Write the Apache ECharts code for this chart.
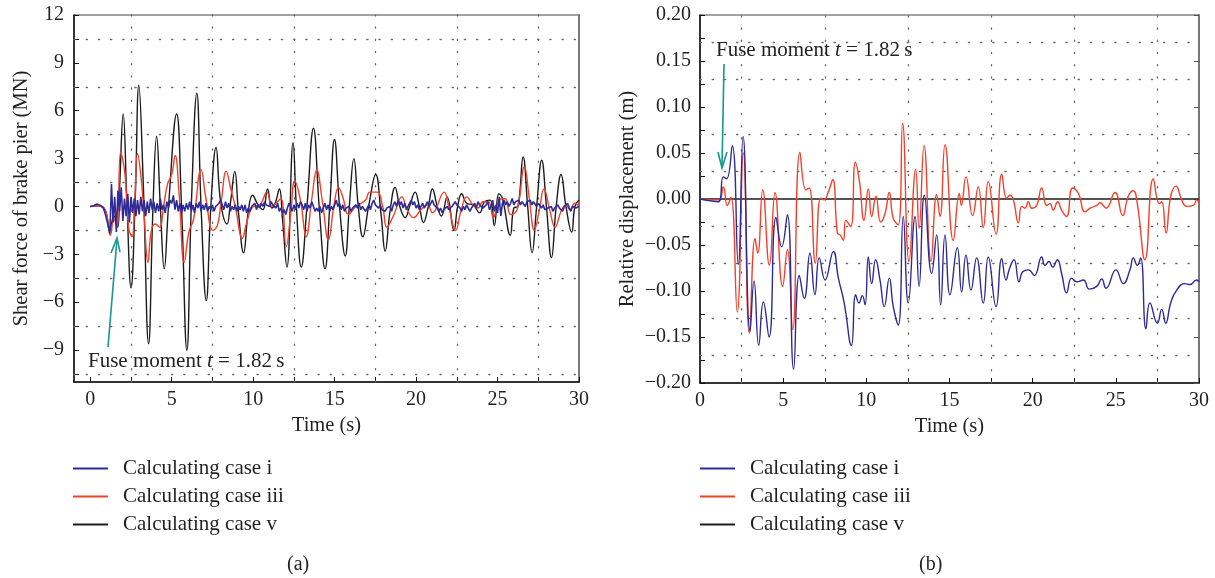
<!DOCTYPE html>
<html>
<head>
<meta charset="utf-8">
<script src="https://cdn.jsdelivr.net/npm/echarts@6/dist/echarts.min.js"></script>
<style>
  html, body { margin: 0; padding: 0; background: #ffffff; }
  #chart { width: 1215px; height: 578px; }
</style>
</head>
<body>
<div id="chart"></div>
<script>
// ---- names, colours and axis ticks ----
const seriesNames = ['Calculating case i', 'Calculating case iii', 'Calculating case v'];
const seriesColors = ['#2d2b98', '#f2412b', '#1c1c1c'];

const timeLabelValues = [0, 5, 10, 15, 20, 25, 30];
const timeTickValues = [0, 2.5, 5, 7.5, 10, 12.5, 15, 17.5, 20, 22.5, 25, 27.5, 30];
const timeGridValues = [2.5, 7.5, 12.5, 17.5, 22.5, 27.5];

const forceLabelValues = [-9, -6, -3, 0, 3, 6, 9, 12];
const forceTickValues = [-10.5, -9, -7.5, -6, -4.5, -3, -1.5, 0, 1.5, 3, 4.5, 6, 7.5, 9, 10.5, 12];
const forceGridValues = [-10.5, -7.5, -4.5, -1.5, 1.5, 4.5, 7.5, 10.5];

const dispGridValues = [-0.175, -0.125, -0.075, -0.025, 0.025, 0.075, 0.125, 0.175];

// ---- (a) shear force of brake pier, MN ----
// case i sampled every 0.1 s from t = 0
const caseIForceStep = 0.1;
const caseIForce = [
  0, 0.02, 0.05, 0.1, 0.15, 0.12, 0.08, 0.05, -0.1, -0.4,
  -0.8, -1.2, -1.7, 1.4, -1.0, 0.6, -1.6, 1.0, -0.3, 1.2,
  -0.9, 0.5, -0.6, 0.8, -1.0, 0.6, -0.4, 0.5, -0.6, 0.4,
  -0.5, 0.6, -0.3, 0.4, -0.6, 0.3, -0.4, 0.5, -0.2, 0.3,
  -0.4, 0.2, -0.3, 0.5, -0.2, 0.1, -0.4, 0.3, -0.1, 0.4,
  0.2, 0.7, -0.2, 0.4, -0.3, 0.2, -0.4, 0.1, -0.3, 0.2,
  -0.2, 0.3, -0.3, 0.1, -0.4, 0.2, -0.1, 0.3, -0.3, 0.1,
  -0.2, 0.2, -0.3, 0.0, -0.2, 0.1, -0.3, 0.0, -0.1, 0.2,
  0.4, 0.1, -0.2, 0.3, -0.1, 0.2, -0.3, 0.0, -0.2, 0.1,
  -0.3, 0.0, -0.2, 0.1, -0.3, 0.1, -0.4, -0.1, -0.3, 0.0,
  -0.1, 0.2, -0.2, 0.1, -0.1, 0.2, 0.0, 0.3, 0.1, 0.2,
  0.0, 0.3, 0.1, 0.2, -0.1, 0.2, -0.3, -0.1, -0.4, -0.2,
  -0.5, -0.1, 0.2, 0.0, -0.3, 0.1, -0.2, 0.2, -0.1, 0.3,
  0.1, -0.2, 0.2, -0.3, 0.1, -0.1, 0.3, 0.0, -0.3, -0.1,
  -0.3, 0.0, -0.4, -0.1, 0.2, -0.2, 0.1, -0.3, 0.0, -0.2,
  0.1, 0.4, 0.0, 0.2, -0.2, 0.1, -0.3, -0.1, -0.2, 0.0,
  -0.3, -0.1, -0.2, 0.1, -0.1, 0.2, -0.2, 0.0, -0.1, -0.3,
  -0.1, 0.1, -0.2, 0.2, 0.4, 0.1, 0.2, -0.1, 0.1, -0.2,
  -0.1, -0.3, -0.1, -0.2, 0.0, -0.3, 0.1, 0.3, 0.0, 0.4,
  0.1, 0.3, -0.1, 0.2, -0.2, 0.0, 0.2, 0.4, 0.1, 0.3,
  -0.1, 0.1, -0.2, 0.0, 0.2, -0.1, 0.1, 0.3, 0.0, 0.2,
  0.4, 0.1, 0.2, -0.1, -0.3, -0.1, -0.4, -0.2, -0.3, 0.0,
  -0.2, -0.3, 0.0, 0.1, 0.3, 0.1, 0.0, -0.1, -0.3, 0.0,
  -0.2, 0.1, -0.1, -0.3, -0.1, 0.0, 0.2, -0.1, 0.3, 0.1,
  0.2, -0.1, -0.2, 0.1, 0.3, -0.2, 0.0, 0.4, -0.3, 0.1,
  -0.4, 0.6, -0.6, 0.2, 0.4, 0.1, 0.3, 0.0, 0.2, 0.5,
  0.1, 0.3, 0.2, 0.4, 0.1, 0.3, 0.2, 0.0, 0.3, 0.2,
  0.4, 0.1, 0.3, 0.2, 0.0, 0.2, 0.3, -0.1, 0.1, -0.2,
  -0.3, -0.1, -0.2, 0.0, -0.3, -0.1, -0.2, 0.1, -0.1, -0.2,
  -0.3, 0.0, -0.1, 0.2, -0.1, -0.3, 0.0, 0.1, -0.1, 0.0,
  0.0
];

const caseIIIForce = [
  [0, 0], [0.5, 0.05], [0.92, -0.2], [1.23, -1.8], [1.45, -0.8], [1.65, -1.3], [1.86, 3.4],
  [2.12, 2.1], [2.35, -1.3], [2.56, -1.9], [2.72, 0.2], [2.9, 3.3], [3.1, 2.0], [3.3, -0.5],
  [3.54, -3.5], [3.75, -1.5], [3.99, -1.1], [4.25, -1.3], [4.5, 0], [4.74, 1.4], [5.0, 2.0],
  [5.21, 3.2], [5.45, 0.8], [5.77, -3.5], [6.05, -1.6], [6.34, -0.8], [6.8, 2.3], [7.1, 0.5],
  [7.53, -1.5], [7.8, -1.2], [8.05, 0.4], [8.34, 2.2], [8.65, 1.0], [8.9, 0], [9.34, -2.0],
  [9.6, -1.0], [10.0, 0], [10.4, 0.1], [10.84, 0.9], [11.15, 0], [11.4, 0.2], [11.7, 0.5],
  [12.03, -2.5], [12.3, -0.5], [12.55, 1.6], [12.9, 0.4], [13.25, -1.9], [13.6, 0.5],
  [13.9, 2.3], [14.25, 0.3], [14.62, -2.1], [14.95, 0], [15.24, 1.2], [15.5, 0.6], [15.85, -0.5],
  [16.3, 0], [16.9, 0.4], [17.15, 0.9], [17.6, 0.9], [17.95, 0], [18.2, -1.3], [18.6, -0.6],
  [19.13, 0.6], [19.45, -0.2], [19.84, -0.7], [20.3, -0.2], [20.7, 0.1], [21.0, -0.4],
  [21.72, 0.9], [22.0, 0], [22.43, -1.5], [22.75, -0.3], [23.11, 0.6], [23.5, 0.1], [23.8, -0.1],
  [24.1, 0.3], [24.44, 0.3], [24.74, -0.7], [25.1, 0.4], [25.46, 0.5], [25.8, -0.5], [26.2, -0.2],
  [26.65, 2.5], [26.95, 0.5], [27.26, -1.5], [27.55, -0.3], [27.85, 1.1], [28.2, -0.2],
  [28.53, -1.3], [28.9, -0.3], [29.2, 0.1], [29.44, -0.2], [29.75, 0.2], [30, 0]
];

const caseVForce = [
  [0, 0], [0.5, 0.05], [0.92, -0.25], [1.19, -1.5], [1.45, -0.6], [1.68, -1.3], [1.8, 1.2],
  [2.02, 5.8], [2.25, 0.2], [2.5, -5.1], [2.75, 0.2], [2.98, 7.6], [3.25, 1.5], [3.58, -8.6],
  [3.85, 0], [4.07, 4.4], [4.3, 0], [4.54, -3.9], [4.8, 0], [5.3, 5.8], [5.6, 0], [5.93, -9.0],
  [6.2, 0], [6.54, 7.1], [6.8, 0], [7.12, -5.9], [7.4, 0], [7.72, 3.7], [8.0, 0.3], [8.39, -1.1],
  [8.6, 0.2], [8.87, 2.2], [9.1, -0.4], [9.41, -2.9], [9.7, -0.3], [9.96, 0.7], [10.3, 0.1],
  [10.6, -0.2], [10.88, 1.1], [11.15, -0.1], [11.35, 0.2], [11.61, 1.1], [11.8, -0.8],
  [12.07, -3.8], [12.45, 4.0], [12.65, 0], [12.95, -3.8], [13.3, 0], [13.7, 4.9], [14.05, 0],
  [14.41, -3.9], [14.7, 0], [14.99, 4.2], [15.3, 0], [15.65, -3.1], [15.9, 0], [16.18, 3.0],
  [16.45, 0], [16.73, -1.9], [17.1, 0.1], [17.52, 2.0], [17.85, -0.5], [18.1, -2.8], [18.4, -0.3],
  [18.71, 1.2], [19.0, 0], [19.33, -0.7], [19.6, 0], [19.94, 0.9], [20.2, 0], [20.45, -1.0],
  [20.75, 0], [21.0, 1.1], [21.3, 0], [21.55, -0.6], [21.9, 0.6], [22.32, -1.5], [22.55, 0],
  [22.8, 0.8], [23.1, 0.2], [23.5, 0.1], [23.9, -0.4], [24.2, 0.3], [24.54, 0.4], [24.8, -1.2],
  [25.08, 0.8], [25.3, 0.5], [25.78, -1.8], [26.0, -0.1], [26.25, 0], [26.57, 3.1], [26.85, 0],
  [27.12, -2.9], [27.4, 0], [27.71, 2.9], [28.0, 0], [28.31, -3.2], [28.6, 0], [28.9, 2.0],
  [29.2, 0], [29.55, -1.6], [29.75, 0], [30, 0.4]
];

// ---- (b) relative displacement, m ----
const caseIDisp = [
  [0, 0], [1.10, -0.003], [1.40, 0.024], [1.60, 0.022], [1.94, 0.058], [2.30, -0.071], [2.59, 0.068],
  [3.01, -0.144], [3.25, -0.089], [3.53, -0.159], [3.81, -0.112], [4.15, -0.150], [4.57, -0.020],
  [4.91, -0.052], [5.25, -0.017], [5.63, -0.185], [5.97, -0.083], [6.27, -0.108], [6.61, -0.059],
  [6.91, -0.104], [7.17, -0.064], [7.52, -0.088], [8.02, -0.057], [8.32, -0.086], [8.66, -0.112],
  [9.10, -0.159], [9.36, -0.104], [9.56, -0.113], [9.76, -0.105], [9.92, -0.115], [10.12, -0.063],
  [10.32, -0.092], [10.56, -0.066], [10.82, -0.088], [11.08, -0.117], [11.38, -0.086],
  [11.62, -0.117], [11.92, -0.137], [12.22, -0.019], [12.52, -0.113], [12.93, -0.019],
  [13.17, -0.095], [13.49, 0.004], [13.93, -0.081], [14.23, -0.039], [14.47, -0.115],
  [14.73, -0.039], [15.03, -0.104], [15.47, -0.053], [15.73, -0.101], [15.99, -0.061],
  [16.29, -0.099], [16.63, -0.064], [17.03, -0.113], [17.33, -0.063], [17.80, -0.117],
  [18.14, -0.065], [18.40, -0.088], [18.60, -0.076], [18.88, -0.066], [19.18, -0.090],
  [19.40, -0.079], [19.74, -0.077], [20.10, -0.083], [20.54, -0.063], [20.74, -0.072],
  [20.98, -0.068], [21.20, -0.074], [21.48, -0.066], [21.74, -0.081], [22.04, -0.102],
  [22.34, -0.086], [22.65, -0.090], [23.05, -0.088], [23.41, -0.098], [23.85, -0.095],
  [24.15, -0.087], [24.41, -0.097], [25.01, -0.077], [25.45, -0.092], [25.85, -0.077],
  [26.05, -0.064], [26.29, -0.072], [26.49, -0.064], [26.81, -0.141], [27.05, -0.113],
  [27.50, -0.135], [27.76, -0.120], [28.00, -0.135], [28.30, -0.113], [28.66, -0.099],
  [29.16, -0.092], [29.46, -0.093], [29.86, -0.088], [30.0, -0.090]
];

const caseIIIDisp = [
  [0, 0], [1.10, -0.001], [1.40, 0.013], [1.64, -0.007], [1.86, 0.002], [2.24, -0.123], [2.61, 0.050],
  [2.97, -0.146], [3.31, -0.043], [3.47, -0.059], [3.77, 0.010], [4.17, -0.072], [4.51, 0.007],
  [4.97, -0.095], [5.25, -0.055], [5.57, -0.142], [6.01, 0.051], [6.37, 0.010], [6.57, 0.012],
  [6.93, -0.070], [7.25, 0.001], [7.45, -0.001], [7.72, 0.008], [7.98, 0.021], [8.26, -0.037],
  [8.42, -0.039], [8.62, -0.045], [8.76, -0.023], [9.06, -0.030], [9.34, 0.040], [9.58, 0.020],
  [9.86, -0.023], [10.12, 0.011], [10.32, -0.019], [10.58, 0.003], [10.86, -0.025], [11.12, -0.016],
  [11.38, 0.007], [11.62, -0.021], [11.92, -0.028], [12.18, 0.082], [12.57, -0.068], [12.97, 0.032],
  [13.17, -0.032], [13.47, 0.058], [13.89, -0.068], [14.23, 0.005], [14.43, -0.019], [14.73, 0.059],
  [15.23, -0.045], [15.59, 0.006], [15.71, -0.007], [15.99, 0.024], [16.39, -0.018], [16.73, 0.013],
  [17.03, -0.031], [17.33, 0.019], [17.80, -0.038], [18.14, 0.027], [18.44, 0.001], [18.64, 0.004],
  [18.84, -0.001], [19.14, -0.026], [19.34, -0.008], [19.54, -0.010], [19.74, -0.003],
  [19.94, -0.010], [20.24, -0.007], [20.54, 0.012], [20.84, -0.007], [21.04, -0.005],
  [21.24, -0.012], [21.50, -0.003], [21.74, -0.012], [22.04, -0.019], [22.40, 0.012],
  [22.75, 0.006], [23.15, -0.014], [23.45, -0.010], [23.85, -0.007], [24.05, -0.004],
  [24.41, -0.010], [24.95, 0.007], [25.41, -0.018], [25.75, 0.003], [26.05, 0.009],
  [26.29, -0.005], [26.75, -0.066], [27.25, 0.022], [27.62, -0.005], [27.76, -0.003],
  [28.02, -0.037], [28.30, 0.003], [28.62, 0.014], [28.96, -0.001], [29.26, -0.008],
  [29.66, -0.007], [29.86, -0.001], [30.0, -0.005]
];

const caseVDisp = [[0, 0], [30, 0]];

// ---- styling helpers ----
const FONT = "'Liberation Serif', 'DejaVu Serif', serif";
const TEXT = '#231f20';
const minus = v => (v < 0 ? '\u2212' + String(Math.abs(v)) : String(v));

const dotted = { color: '#666666', width: 1.3, type: [1.2, 11], cap: 'round' };

function gridLines(xs, ys) {
  return {
    silent: true,
    symbol: 'none',
    z: 1,
    animation: false,
    label: { show: false },
    emphasis: { disabled: true },
    lineStyle: dotted,
    data: xs.map(v => ({ xAxis: v })).concat(ys.map(v => ({ yAxis: v })))
  };
}

function lineSeries(name, idx, data, gridIdx, opts) {
  return Object.assign({
    name: name,
    type: 'line',
    xAxisIndex: gridIdx,
    yAxisIndex: gridIdx === 0 ? 0 : 2,
    data: data,
    showSymbol: false,
    symbol: 'none',
    animation: false,
    lineStyle: { color: seriesColors[idx], width: 1.4 },
    itemStyle: { color: seriesColors[idx] },
    emphasis: { disabled: true }
  }, opts || {});
}

const caseIForcePairs = caseIForce.map((v, i) => [+(i * caseIForceStep).toFixed(2), v]);

const axisText = { fontFamily: FONT, fontSize: 20, color: TEXT };

const legendBase = {
  top: 458, orient: 'vertical', padding: 0, itemWidth: 35, itemHeight: 2, itemGap: 7,
  icon: 'rect', selectedMode: false, data: seriesNames,
  textStyle: { fontFamily: FONT, fontSize: 21, color: TEXT, lineHeight: 21, padding: [0, 0, 0, 10] }
};

const option = {
  backgroundColor: '#ffffff',
  animation: false,
  grid: [
    { left: 74, top: 15, width: 505, height: 367, show: true, borderColor: '#444', borderWidth: 1, outerBoundsMode: 'none' },
    { left: 700, top: 15, width: 499, height: 368, show: true, borderColor: '#444', borderWidth: 1, outerBoundsMode: 'none' }
  ],
  xAxis: [
    {
      gridIndex: 0, type: 'value', min: -1, max: 30,
      name: 'Time (s)', nameLocation: 'middle', nameGap: 31,
      nameTextStyle: Object.assign({}, axisText, { fontSize: 20.5 }),
      axisLine: { show: true, onZero: false, lineStyle: { color: '#111', width: 1.5 } },
      axisTick: { show: true, inside: true, length: 5, customValues: timeTickValues, lineStyle: { color: '#111', width: 1 } },
      axisLabel: Object.assign({ customValues: timeLabelValues, margin: 8, formatter: v => minus(v) }, axisText),
      splitLine: { show: false }
    },
    {
      gridIndex: 1, type: 'value', min: 0, max: 30, interval: 2.5,
      name: 'Time (s)', nameLocation: 'middle', nameGap: 31,
      nameTextStyle: Object.assign({}, axisText, { fontSize: 20.5 }),
      axisLine: { show: true, onZero: false, lineStyle: { color: '#111', width: 1.5 } },
      axisTick: { show: true, inside: true, length: 5, lineStyle: { color: '#111', width: 1 } },
      axisLabel: Object.assign({ margin: 8, showMinLabel: true, showMaxLabel: true,
        formatter: v => (Math.abs(v % 5) < 1e-9 ? String(v) : '') }, axisText),
      splitLine: { show: false }
    }
  ],
  yAxis: [
    {
      gridIndex: 0, type: 'value', min: -11, max: 12,
      name: 'Shear force of brake pier (MN)', nameLocation: 'middle', nameRotate: 90, nameGap: 42,
      nameTextStyle: Object.assign({}, axisText, { fontSize: 20.5 }),
      axisLine: { show: true, onZero: false, lineStyle: { color: '#111', width: 1.5 } },
      axisTick: { show: true, inside: true, length: 5, customValues: forceTickValues, lineStyle: { color: '#111', width: 1 } },
      axisLabel: Object.assign({ customValues: forceLabelValues, margin: 10, formatter: v => minus(v) }, axisText),
      splitLine: { show: false }
    },
    {
      gridIndex: 0, type: 'value', min: -11, max: 12, position: 'right',
      axisLine: { show: true, onZero: false, lineStyle: { color: '#777', width: 2 } },
      axisTick: { show: false }, axisLabel: { show: false }, splitLine: { show: false }
    },
    {
      gridIndex: 1, type: 'value', min: -0.2, max: 0.2, interval: 0.025,
      name: 'Relative displacement (m)', nameLocation: 'middle', nameRotate: 90, nameGap: 62,
      nameTextStyle: Object.assign({}, axisText, { fontSize: 20.5 }),
      axisLine: { show: true, onZero: false, lineStyle: { color: '#111', width: 1.5 } },
      axisTick: { show: true, inside: true, length: 5, lineStyle: { color: '#111', width: 1 } },
      axisLabel: Object.assign({ margin: 9, showMinLabel: true, showMaxLabel: true,
        formatter: v => {
          const k = Math.round(v * 1000);
          if (k % 50 !== 0) return '';
          const s = Math.abs(v).toFixed(2);
          return k < 0 ? '\u2212' + s : s;
        } }, axisText),
      splitLine: { show: false }
    },
    {
      gridIndex: 1, type: 'value', min: -0.2, max: 0.2, interval: 0.05, position: 'right',
      axisLine: { show: true, onZero: false, lineStyle: { color: '#777', width: 2 } },
      axisTick: { show: true, inside: true, length: 5, lineStyle: { color: '#555', width: 1 } },
      axisLabel: { show: false }, splitLine: { show: false }
    }
  ],
  legend: [
    Object.assign({ left: 73 }, legendBase),
    Object.assign({ left: 700 }, legendBase)
  ],
  series: [
    // (a) shear force
    lineSeries(seriesNames[2], 2, caseVForce, 0, { smooth: 0.45, z: 2, markLine: gridLines(timeGridValues, forceGridValues) }),
    lineSeries(seriesNames[1], 1, caseIIIForce, 0, { smooth: 0.45, z: 3 }),
    lineSeries(seriesNames[0], 0, caseIForcePairs, 0, { smooth: false, z: 4, lineStyle: { color: seriesColors[0], width: 1.6 } }),
    // (b) relative displacement
    lineSeries(seriesNames[2], 2, caseVDisp, 1, { z: 2, lineStyle: { color: seriesColors[2], width: 1.6 }, markLine: gridLines(timeGridValues, dispGridValues) }),
    lineSeries(seriesNames[1], 1, caseIIIDisp, 1, { smooth: 0.5, z: 3 }),
    lineSeries(seriesNames[0], 0, caseIDisp, 1, { smooth: 0.5, z: 4 })
  ],
  graphic: [
    // fuse-moment notes with their arrows
    {
      type: 'text', left: 88, top: 351, z: 10,
      style: {
        text: 'Fuse moment {i|t} = 1.82\u2009s', fill: TEXT, fontFamily: FONT, fontSize: 21,
        rich: { i: { fontStyle: 'italic', fontFamily: FONT, fontSize: 21, fill: TEXT } }
      }
    },
    { type: 'line', z: 10, shape: { x1: 108, y1: 347, x2: 117, y2: 239 }, style: { stroke: '#17978d', lineWidth: 1.6 } },
    { type: 'polyline', z: 10, shape: { points: [[111, 253], [117, 238], [120, 252]] }, style: { stroke: '#17978d', lineWidth: 1.6, fill: null } },
    {
      type: 'text', left: 716, top: 40, z: 10,
      style: {
        text: 'Fuse moment {i|t} = 1.82\u2009s', fill: TEXT, fontFamily: FONT, fontSize: 21,
        rich: { i: { fontStyle: 'italic', fontFamily: FONT, fontSize: 21, fill: TEXT } }
      }
    },
    { type: 'line', z: 10, shape: { x1: 724, y1: 64, x2: 722, y2: 167 }, style: { stroke: '#17978d', lineWidth: 1.6 } },
    { type: 'polyline', z: 10, shape: { points: [[718, 152], [722, 168], [727, 152]] }, style: { stroke: '#17978d', lineWidth: 1.6, fill: null } },
    // panel captions
    { type: 'text', left: 287, top: 555, style: { text: '(a)', fill: TEXT, fontFamily: FONT, fontSize: 20 } },
    { type: 'text', left: 919, top: 555, style: { text: '(b)', fill: TEXT, fontFamily: FONT, fontSize: 20 } }
  ]
};

const chart = echarts.init(document.getElementById('chart'), null, { renderer: 'canvas' });
chart.setOption(option);
</script>
</body>
</html>
